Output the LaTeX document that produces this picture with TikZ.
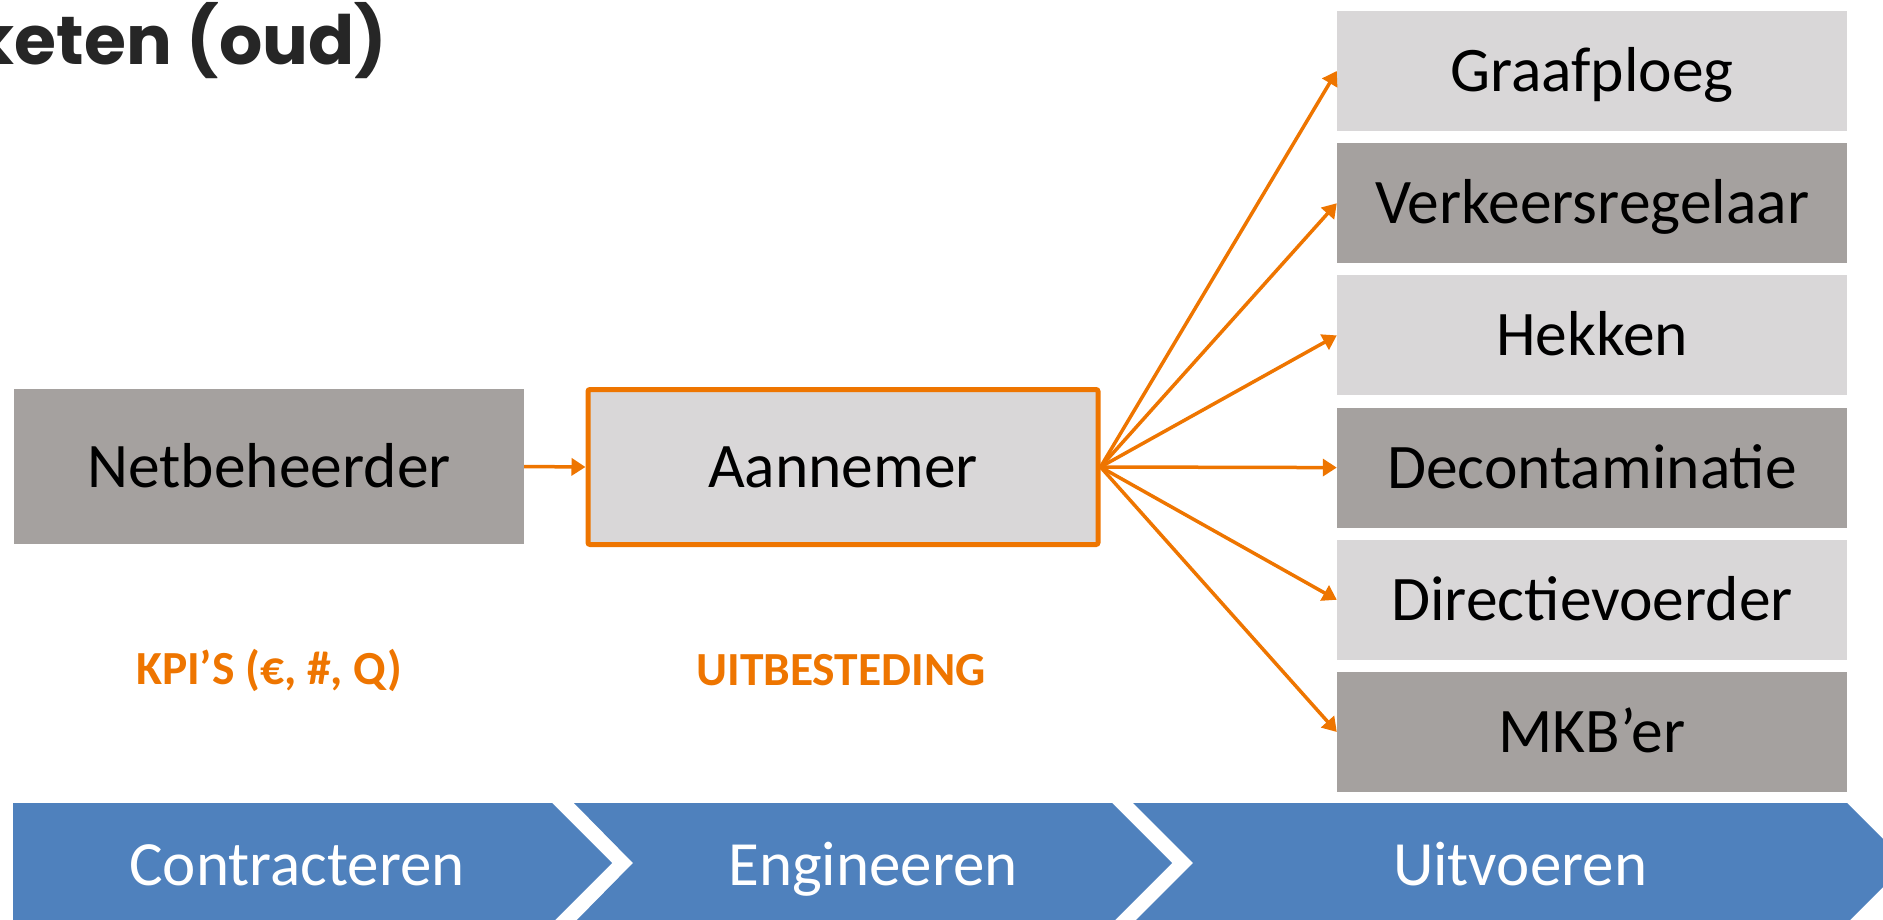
\documentclass[tikz,border=0pt]{standalone}
\usepackage{fontspec}
\setmainfont{Carlito}
\newfontfamily\titlefont{Poppins}
\usetikzlibrary{arrows.meta}

\definecolor{kpiorange}{RGB}{238,117,0}
\definecolor{darkbox}{RGB}{165,161,159}
\definecolor{lightbox}{RGB}{217,215,216}
\definecolor{phaseblue}{RGB}{79,129,189}
\definecolor{titlegray}{RGB}{38,38,38}

\tikzset{
    partij/.style={minimum width=510pt, inner sep=0pt, text=black,
        text height=44pt, text depth=3pt,
        font=\fontsize{63.5}{70}\selectfont},
    darkpartij/.style={partij, fill=darkbox, minimum height=155pt},
    sub/.style={partij, minimum height=120pt},
    pijl/.style={draw=kpiorange, line width=3.5pt, -{Triangle[length=14pt,width=17pt]}},
    kpilabel/.style={text=kpiorange, font=\fontsize{47.5}{52}\selectfont\bfseries},
    fase/.style={fill=phaseblue},
    fasetekst/.style={text=white, text height=44pt, text depth=3pt,
        font=\fontsize{63}{70}\selectfont}
}

\begin{document}
\begin{tikzpicture}[x=1pt, y=-1pt]
    \useasboundingbox (0,0) rectangle (1883,920);

    % titel
    \node[anchor=base east, inner sep=0pt, text=titlegray,
        font=\titlefont\bfseries\fontsize{68}{78}\selectfont] (titel) at (387,65) {keten (oud)};

    % ketenpartijen
    \node[darkpartij] (netbeheerder) at (269,466.5) {Netbeheerder};
    \node[partij, fill=lightbox, draw=kpiorange, line width=5pt, rounded corners=2pt,
        minimum height=155pt] (aannemer) at (843,467) {Aannemer};

    % onderaannemers
    \foreach \naam/\tekst/\kleur [count=\i from 0] in {graafploeg/Graafploeg/lightbox,
            verkeer/Verkeersregelaar/darkbox, hekken/Hekken/lightbox,
            decon/Decontaminatie/darkbox, directie/Directievoerder/lightbox,
            mkb/MKB’er/darkbox} {
        \node[sub, fill=\kleur] (\naam) at (1592,71+132.2*\i) {\tekst};
        \draw[pijl] (aannemer.east) -- (\naam.west);
    }

    \draw[pijl] (netbeheerder.east) -- (aannemer.west);

    % labels
    \node[kpilabel] (kpi) at (269,670) {KPI’S (€, \#, Q)};
    \node[kpilabel] (uitbesteding) at (841,670) {UITBESTEDING};

    % fasen
    \fill[fase] (13,803) -- (552,803) -- (612,863) -- (552,923) -- (13,923) -- cycle;
    \fill[fase] (574,803) -- (1112,803) -- (1172,863) -- (1112,923) -- (574,923)
        -- (633,863) -- cycle;
    \fill[fase] (1133,803) -- (1847,803) -- (1907,863) -- (1847,923) -- (1133,923)
        -- (1193,863) -- cycle;
    \node[fasetekst] (contracteren) at (297,865) {Contracteren};
    \node[fasetekst] (engineeren) at (873,865) {Engineeren};
    \node[fasetekst] (uitvoeren) at (1520,865) {Uitvoeren};
\end{tikzpicture}
\end{document}
